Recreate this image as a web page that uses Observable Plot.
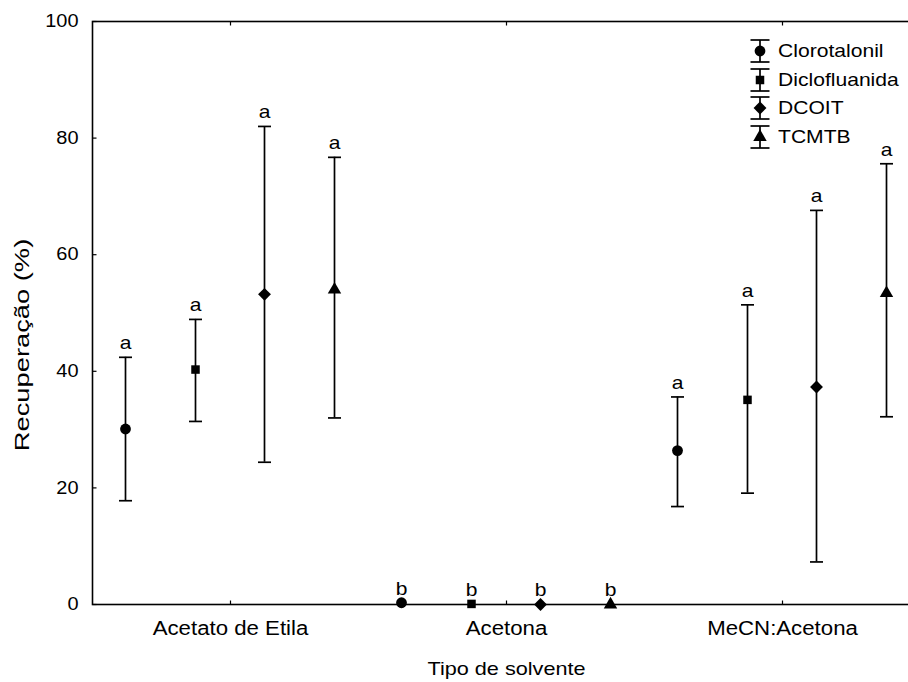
<!DOCTYPE html>
<html><head><meta charset="utf-8">
<script src="https://cdn.jsdelivr.net/npm/d3@7"></script>
<script src="https://cdn.jsdelivr.net/npm/@observablehq/plot@0.6"></script>
<style>
body{margin:0;overflow:hidden;background:#fff;font-family:"Liberation Sans",Arial,sans-serif;}
#wrap{position:relative;width:908px;height:682px;overflow:hidden;}
#chart svg{max-width:none !important;}
#legend{position:absolute;left:748px;top:37px;}
.lrow{display:flex;align-items:center;height:28.5px;}
.lrow span{font-size:18.5px;margin-left:6px;color:#000;display:inline-block;transform:scaleX(1.14);transform-origin:left center;}
</style></head><body><div id="wrap"><div id="chart"></div><div id="legend"></div></div>
<script>
// ---- data ----
const solvents = ["Acetato de Etila", "Acetona", "MeCN:Acetona"];
const compounds = ["Clorotalonil", "Diclofluanida", "DCOIT", "TCMTB"];
const yTicks = [0, 20, 40, 60, 80, 100];

const meanClorotalonil = [30.1, 0.3, 26.4];
const lowClorotalonil  = [17.8, null, 16.8];
const highClorotalonil = [42.4, null, 35.6];
const letterClorotalonil = ["a", "b", "a"];

const meanDiclofluanida = [40.3, 0.1, 35.1];
const lowDiclofluanida  = [31.4, null, 19.1];
const highDiclofluanida = [48.9, null, 51.4];
const letterDiclofluanida = ["a", "b", "a"];

const meanDCOIT = [53.2, 0.0, 37.3];
const lowDCOIT  = [24.4, null, 7.3];
const highDCOIT = [82.0, null, 67.6];
const letterDCOIT = ["a", "b", "a"];

const meanTCMTB = [54.0, 0.0, 53.4];
const lowTCMTB  = [32.0, null, 32.2];
const highTCMTB = [76.7, null, 75.6];
const letterTCMTB = ["a", "b", "a"];

// ---- build table ----
const series = [
  [meanClorotalonil, lowClorotalonil, highClorotalonil, letterClorotalonil],
  [meanDiclofluanida, lowDiclofluanida, highDiclofluanida, letterDiclofluanida],
  [meanDCOIT, lowDCOIT, highDCOIT, letterDCOIT],
  [meanTCMTB, lowTCMTB, highTCMTB, letterTCMTB]
];
const tables = series.map(([m, lo, hi, le], k) =>
  solvents.map((s, j) => ({solvent: s, compound: compounds[k], mean: m[j], low: lo[j], high: hi[j], letter: le[j],
    top: hi[j] == null ? m[j] : hi[j]})));

const symbols = ["circle", "square", "diamond2", "triangle"];
const radii = [5.4, 4.8, 5.8, 5.0];
const offsets = [-105, -35, 34, 104];

const cap = (w) => ({draw(ctx) { ctx.moveTo(-w, 0); ctx.lineTo(w, 0); }});
const hTick = {draw(ctx) { ctx.moveTo(0, 0); ctx.lineTo(4, 0); }};
const vTickUp = {draw(ctx) { ctx.moveTo(0, 0); ctx.lineTo(0, -4); }};
const vTickDown = {draw(ctx) { ctx.moveTo(0, 0); ctx.lineTo(0, 4); }};

const marks = [
  Plot.frame({stroke: "black", strokeWidth: 1.6}),
  Plot.axisY(yTicks, {tickSize: 0, tickPadding: 14, fontSize: 17.5, label: null}),
  Plot.axisX({tickSize: 0, tickPadding: 17, fontSize: 19.5, label: null}),
  Plot.dot(yTicks, {y: d => d, frameAnchor: "left", symbol: hTick, stroke: "black", strokeWidth: 1.2, fill: "none"}),
  Plot.dot(solvents, {x: d => d, frameAnchor: "bottom", symbol: vTickUp, stroke: "black", strokeWidth: 1.2, fill: "none"}),
  Plot.dot(solvents, {x: d => d, frameAnchor: "top", symbol: vTickDown, stroke: "black", strokeWidth: 1.2, fill: "none"}),
  Plot.text(["Tipo de solvente"], {frameAnchor: "bottom", dy: 64, fontSize: 19, textAnchor: "middle", lineAnchor: "middle"}),
  Plot.text(["Recuperação (%)"], {frameAnchor: "left", dx: -70, dy: 32, rotate: -90, fontSize: 21, textAnchor: "middle", lineAnchor: "middle"})
];

tables.forEach((rows, k) => {
  const dx = offsets[k];
  const bars = rows.filter(d => d.low != null);
  marks.push(
    Plot.ruleX(bars, {x: "solvent", y1: "low", y2: "high", dx, stroke: "black", strokeWidth: 1.7}),
    Plot.dot(bars, {x: "solvent", y: "low", dx, symbol: cap(6.5), stroke: "black", strokeWidth: 1.7, fill: "none"}),
    Plot.dot(bars, {x: "solvent", y: "high", dx, symbol: cap(6.5), stroke: "black", strokeWidth: 1.7, fill: "none"}),
    Plot.dot(rows, {x: "solvent", y: "mean", dx, symbol: symbols[k], r: radii[k], fill: "black", stroke: "none"}),
    Plot.text(rows, {x: "solvent", y: "top", text: "letter", dx, dy: -14, fontSize: 18.5, lineAnchor: "middle"})
  );
});

const chart = Plot.plot({
  width: 920, height: 682,
  marginLeft: 92, marginRight: 0, marginTop: 21, marginBottom: 78,
  x: {type: "point", domain: solvents, padding: 0.5},
  y: {domain: [0, 100]},
  style: {fontFamily: "Liberation Sans, Arial, sans-serif", fontSize: "18px", color: "black", background: "white", maxWidth: "none"},
  marks
});
chart.style.maxWidth = "none";
document.getElementById("chart").appendChild(chart);

// widen the glyphs horizontally (the reference font is a stretched Arial)
chart.querySelectorAll("text").forEach(t => {
  const s = t.textContent === "Recuperação (%)" ? 1.3 : 1.14;
  const len = t.getComputedTextLength();
  if (len > 0) {
    t.setAttribute("lengthAdjust", "spacingAndGlyphs");
    t.setAttribute("textLength", (len * s).toFixed(1));
  }
});

// ---- legend ----
const leg = d3.select("#legend");
const symMap = [d3.symbolCircle, d3.symbolSquare, d3.symbolDiamond2, d3.symbolTriangle];
compounds.forEach((c, k) => {
  const row = leg.append("div").attr("class", "lrow");
  const svg = row.append("svg").attr("width", 24).attr("height", 28);
  const g = svg.append("g").attr("transform", "translate(12,14)").attr("stroke", "black").attr("stroke-width", 1.7);
  g.append("line").attr("x1", 0).attr("x2", 0).attr("y1", -11).attr("y2", 11);
  g.append("line").attr("x1", -9.5).attr("x2", 9.5).attr("y1", -11).attr("y2", -11);
  g.append("line").attr("x1", -9.5).attr("x2", 9.5).attr("y1", 11).attr("y2", 11);
  svg.append("path").attr("transform", "translate(12,14)")
    .attr("d", d3.symbol(symMap[k], Math.PI * radii[k] * radii[k])())
    .attr("fill", "black");
  row.append("span").text(c);
});
</script></body></html>
